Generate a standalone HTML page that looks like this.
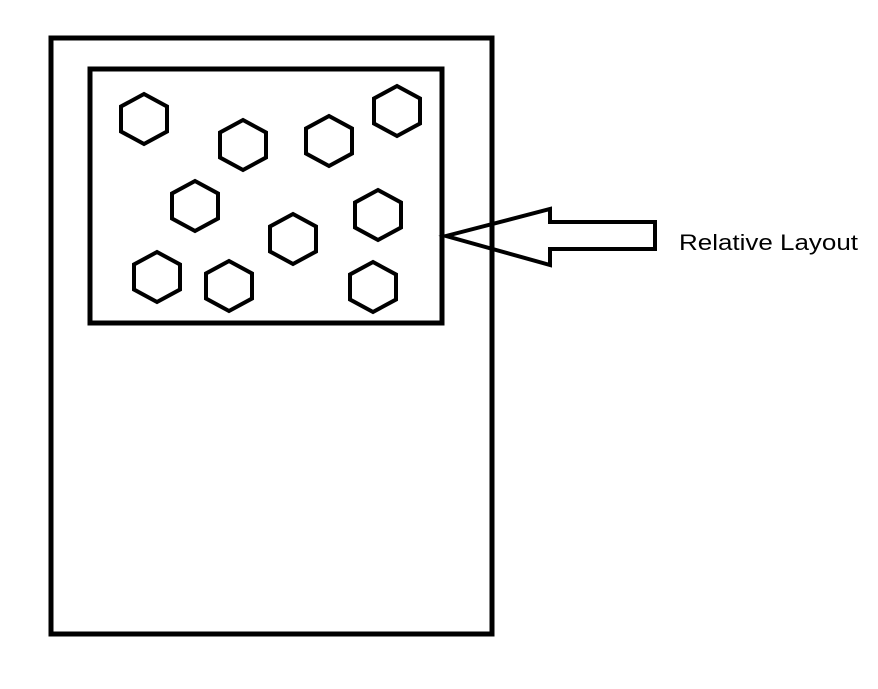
<!DOCTYPE html>
<html><head><style>html,body{margin:0;padding:0;background:#fff;}svg{display:block}</style></head>
<body>
<svg width="878" height="689" viewBox="0 0 878 689" xmlns="http://www.w3.org/2000/svg">
<rect x="51" y="38" width="441" height="596" fill="none" stroke="#000" stroke-width="5"/>
<rect x="90" y="69" width="352" height="254" fill="none" stroke="#000" stroke-width="5"/>
<defs><polygon id="h" points="0,-25 23,-12.5 23,12.5 0,25 -23,12.5 -23,-12.5" fill="none" stroke="#000" stroke-width="4"/></defs>
<use href="#h" x="144" y="119"/>
<use href="#h" x="243" y="145"/>
<use href="#h" x="329" y="141"/>
<use href="#h" x="397" y="111"/>
<use href="#h" x="195" y="206"/>
<use href="#h" x="378" y="215"/>
<use href="#h" x="293" y="239"/>
<use href="#h" x="157" y="277"/>
<use href="#h" x="229" y="286"/>
<use href="#h" x="373" y="287"/>
<polygon points="446,236 550,209 550,222 655,222 655,249 550,249 550,265" fill="none" stroke="#000" stroke-width="4" stroke-linejoin="miter"/>
<text x="679" y="250" font-family="Liberation Sans, sans-serif" font-size="22" textLength="179" lengthAdjust="spacingAndGlyphs" fill="#000">Relative Layout</text>
</svg>
</body></html>
